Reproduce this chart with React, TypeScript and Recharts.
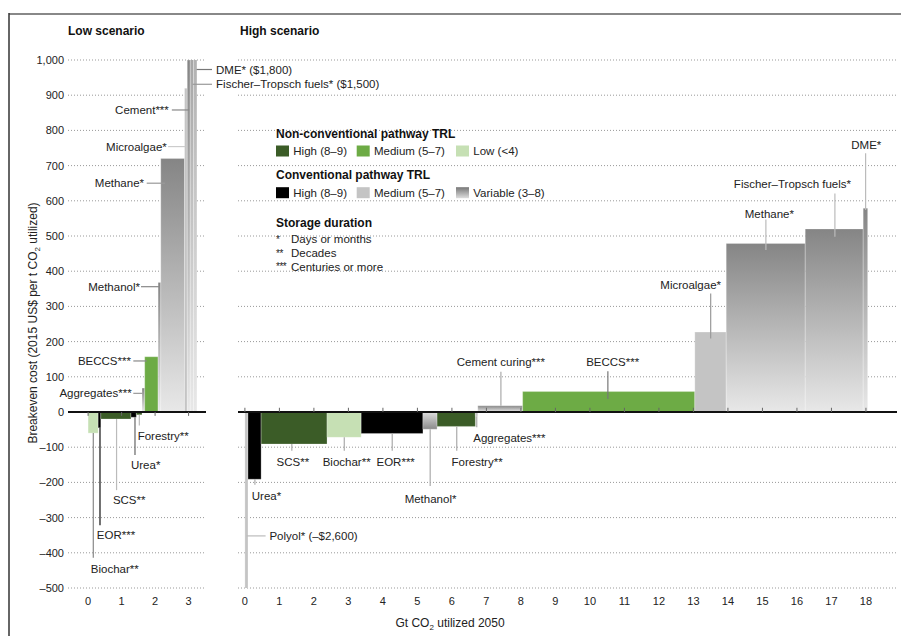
import React from 'react';
import {
  ComposedChart,
  XAxis,
  YAxis,
  CartesianGrid,
  ReferenceArea,
  ReferenceLine,
  ReferenceDot,
  Legend,
} from 'recharts';

const FONT = '"Liberation Sans", Arial, Helvetica, sans-serif';

// Low scenario (Gt CO2 utilized, breakeven cost $/t)
const lowPathways = ['Biochar', 'EOR', 'SCS', 'Urea', 'Forestry', 'Aggregates', 'BECCS', 'Methanol', 'Methane', 'Microalgae', 'Cement', 'Fischer–Tropsch fuels', 'DME'];
const lowVolume = [0.3, 0.08, 0.9, 0.16, 0.17, 0.08, 0.4, 0.08, 0.71, 0.08, 0.09, 0.1, 0.1];
const lowCost = [-60, -45, -20, -15, -8, 68, 157, 368, 720, 920, 1000, 1500, 1800];
const lowTrl = ['ncLow', 'cHigh', 'ncHigh', 'cHigh', 'ncHigh', 'cVar', 'ncMed', 'cVar', 'cVar', 'cMed', 'cVar', 'cVar', 'cVar'];

// High scenario
const highPathways = ['Polyol', 'Urea', 'SCS', 'Biochar', 'EOR', 'Methanol', 'Forestry', 'Aggregates', 'Cement curing', 'BECCS', 'Microalgae', 'Methane', 'Fischer–Tropsch fuels', 'DME'];
const highVolume = [0.09, 0.38, 1.91, 0.99, 1.79, 0.41, 1.11, 0.07, 1.3, 4.99, 0.91, 2.29, 1.68, 0.13];
const highCost = [-2600, -191, -91, -72, -61, -49, -41, -12, 18, 58, 227, 479, 520, 579];
const highTrl = ['cMed', 'cHigh', 'ncHigh', 'ncLow', 'cHigh', 'cVar', 'ncHigh', 'cMed', 'cVar', 'ncMed', 'cMed', 'cVar', 'cVar', 'cVar'];

const costTicks = [-500, -400, -300, -200, -100, 0, 100, 200, 300, 400, 500, 600, 700, 800, 900, 1000];
const lowTicks = [0, 1, 2, 3];
const highTicks = [0, 1, 2, 3, 4, 5, 6, 7, 8, 9, 10, 11, 12, 13, 14, 15, 16, 17, 18];

const COLORS: Record<string, string> = {
  ncHigh: '#3b5c27',
  ncMed: '#6dab45',
  ncLow: '#c6e0b4',
  cHigh: '#000000',
  cMed: '#c4c4c4',
};

// labels + leader lines, in data units of each panel
const lowNotes = [
  { text: 'DME* ($1,800)', x: 3.82, y: 973, anchor: 'start', line: [[3.24, 973], [3.7, 973]], color: '#777' },
  { text: 'Fischer–Tropsch fuels* ($1,500)', x: 3.82, y: 931, anchor: 'start', line: [[3.12, 931], [3.7, 931]], color: '#999' },
  { text: 'Cement***', x: 2.41, y: 858, anchor: 'end', line: [[2.5, 858], [3.02, 858]], color: '#888' },
  { text: 'Microalgae*', x: 2.35, y: 754, anchor: 'end', line: [[2.39, 754], [2.9, 754]], color: '#ccc' },
  { text: 'Methane*', x: 1.67, y: 650, anchor: 'end', line: [[1.75, 650], [2.3, 650]], color: '#999' },
  { text: 'Methanol*', x: 1.55, y: 356, anchor: 'end', line: [[1.58, 356], [2.13, 356]], color: '#888' },
  { text: 'BECCS***', x: 1.28, y: 145, anchor: 'end', line: [[1.35, 145], [1.75, 145]], color: '#888' },
  { text: 'Aggregates***', x: 1.3, y: 53, anchor: 'end', line: [[1.35, 53], [1.63, 53]], color: '#999' },
  { text: 'Forestry**', x: 1.48, y: -68, anchor: 'start', line: [[1.53, -8], [1.53, -38]], color: '#bbb' },
  { text: 'Urea*', x: 1.28, y: -151, anchor: 'start', line: [[1.4, -15], [1.4, -122]], color: '#666' },
  { text: 'SCS**', x: 0.74, y: -250, anchor: 'start', line: [[0.85, -20], [0.85, -222]], color: '#bbb' },
  { text: 'EOR***', x: 0.26, y: -350, anchor: 'start', line: [[0.355, -45], [0.355, -322]], color: '#111' },
  { text: 'Biochar**', x: 0.08, y: -445, anchor: 'start', line: [[0.155, -60], [0.155, -414]], color: '#888' },
];

const highNotes = [
  { text: 'Urea*', x: 0.2, y: -238, anchor: 'start', line: [[0.29, -191], [0.29, -207]], color: '#aaa' },
  { text: 'Polyol* (–$2,600)', x: 0.71, y: -352, anchor: 'start', line: [[0.05, -352], [0.6, -352]], color: '#bbb' },
  { text: 'SCS**', x: 1.39, y: -143, anchor: 'middle', line: [[1.36, -91], [1.36, -110]], color: '#aaa' },
  { text: 'Biochar**', x: 2.95, y: -143, anchor: 'middle', line: [[2.88, -72], [2.88, -110]], color: '#aaa' },
  { text: 'EOR***', x: 4.37, y: -143, anchor: 'middle', line: [[4.27, -61], [4.27, -110]], color: '#aaa' },
  { text: 'Methanol*', x: 5.38, y: -248, anchor: 'middle', line: [[5.37, -49], [5.37, -210]], color: '#aaa' },
  { text: 'Forestry**', x: 6.73, y: -143, anchor: 'middle', line: [[6.14, -41], [6.14, -110]], color: '#aaa' },
  { text: 'Aggregates***', x: 6.62, y: -73, anchor: 'start', line: [[6.72, -12], [6.72, -43]], color: '#aaa' },
  { text: 'Cement curing***', x: 7.42, y: 142, anchor: 'middle', line: [[7.42, 114], [7.42, 18]], color: '#aaa' },
  { text: 'BECCS***', x: 10.66, y: 143, anchor: 'middle', line: [[10.52, 116], [10.52, 37]], color: '#777' },
  { text: 'Microalgae*', x: 12.92, y: 361, anchor: 'middle', line: [[13.5, 337], [13.5, 209]], color: '#999' },
  { text: 'Methane*', x: 15.2, y: 564, anchor: 'middle', line: [[15.1, 547], [15.1, 460]], color: '#bbb' },
  { text: 'Fischer–Tropsch fuels*', x: 15.87, y: 647, anchor: 'middle', line: [[17.1, 621], [17.1, 498]], color: '#bbb' },
  { text: 'DME*', x: 18.01, y: 759, anchor: 'middle', line: [[17.99, 735], [17.99, 574]], color: '#bbb' },
];

const buildRows = (names: string[], vols: number[], costs: number[], trl: string[]) => {
  let start = 0;
  return names.map((name, i) => {
    const row = { name, x0: start, x1: start + vols[i], cost: costs[i], trl: trl[i] };
    start += vols[i];
    return row;
  });
};

const lowRows = buildRows(lowPathways, lowVolume, lowCost, lowTrl);
const highRows = buildRows(highPathways, highVolume, highCost, highTrl);

const barFill = (trl: string, cost: number) => {
  if (trl === 'cVar') return cost >= 0 ? 'url(#varUp)' : 'url(#varDown)';
  return COLORS[trl];
};

const fmtCost = (v: number) => (v < 0 ? '–' + Math.abs(v) : v.toLocaleString('en-US'));

const tickStyle = { fontSize: 11, fill: '#222', fontFamily: FONT };

const renderBars = (rows: any[], prefix: string) =>
  rows.map((r) => (
    <ReferenceArea
      key={prefix + r.name}
      x1={r.x0}
      x2={r.x1}
      y1={0}
      y2={r.cost}
      fill={barFill(r.trl, r.cost)}
      fillOpacity={1}
      stroke="#ffffff"
      strokeOpacity={0.5}
      strokeWidth={0.5}
      ifOverflow="hidden"
    />
  ));

const renderNotes = (notes: any[], prefix: string) =>
  notes.flatMap((n) => [
    <ReferenceLine
      key={prefix + 'l' + n.text}
      segment={[{ x: n.line[0][0], y: n.line[0][1] }, { x: n.line[1][0], y: n.line[1][1] }]}
      stroke={n.color}
      strokeWidth={1.2}
      ifOverflow="visible"
    />,
    <ReferenceDot
      key={prefix + 't' + n.text}
      x={n.x}
      y={n.y}
      r={0}
      ifOverflow="visible"
      shape={(p: any) => (
        <text x={p.cx} y={p.cy} dy="0.36em" textAnchor={n.anchor} fontSize={11.5} fill="#222" fontFamily={FONT}>
          {n.text}
        </text>
      )}
    />,
  ]);

const LegendBlock = () => {
  const sw = [0, 80.7, 180];
  const tx = [17.3, 98, 197.3];
  const title = { fontSize: 12, fontWeight: 700, fill: '#111', fontFamily: FONT } as const;
  const body = { fontSize: 11.5, fill: '#222', fontFamily: FONT } as const;
  return (
    <svg width={330} height={150} style={{ display: 'block', overflow: 'visible' }}>
      <text x={0} y={9.3} dy="0.36em" {...title}>Non-conventional pathway TRL</text>
      {[COLORS.ncHigh, COLORS.ncMed, COLORS.ncLow].map((c, i) => (
        <rect key={'a' + i} x={sw[i]} y={21.5} width={13} height={11} fill={c} />
      ))}
      {['High (8–9)', 'Medium (5–7)', 'Low (<4)'].map((t, i) => (
        <text key={'at' + i} x={tx[i]} y={27} dy="0.36em" {...body}>{t}</text>
      ))}
      <text x={0} y={51} dy="0.36em" {...title}>Conventional pathway TRL</text>
      {[COLORS.cHigh, COLORS.cMed, 'url(#varLegend)'].map((c, i) => (
        <rect key={'b' + i} x={sw[i]} y={63.2} width={13} height={11} fill={c} />
      ))}
      {['High (8–9)', 'Medium (5–7)', 'Variable (3–8)'].map((t, i) => (
        <text key={'bt' + i} x={tx[i]} y={68.7} dy="0.36em" {...body}>{t}</text>
      ))}
      <text x={0} y={98.3} dy="0.36em" {...title}>Storage duration</text>
      {['*', '**', '***'].map((s, i) => (
        <text key={'s' + i} x={0} y={115.3 + i * 13.7} dy="0.36em" fontSize={10} letterSpacing={-0.5} fill="#222" fontFamily={FONT}>{s}</text>
      ))}
      {['Days or months', 'Decades', 'Centuries or more'].map((t, i) => (
        <text key={'st' + i} x={15} y={115.3 + i * 13.7} dy="0.36em" {...body}>{t}</text>
      ))}
    </svg>
  );
};

export default function App() {
  return (
    <div style={{ position: 'absolute', left: 0, top: 0, width: 901, height: 636, background: '#fff', overflow: 'hidden' }}>
      <svg width={901} height={636} style={{ position: 'absolute', left: 0, top: 0 }}>
        <defs>
          <linearGradient id="varUp" x1="0" y1="0" x2="0" y2="1">
            <stop offset="0" stopColor="#858585" />
            <stop offset="1" stopColor="#e8e8e8" />
          </linearGradient>
          <linearGradient id="varDown" x1="0" y1="1" x2="0" y2="0">
            <stop offset="0" stopColor="#8a8a8a" />
            <stop offset="1" stopColor="#dedede" />
          </linearGradient>
          <linearGradient id="varLegend" x1="0" y1="0" x2="0" y2="1">
            <stop offset="0" stopColor="#777777" />
            <stop offset="1" stopColor="#dddddd" />
          </linearGradient>
        </defs>
        <line x1={9} y1={14} x2={901} y2={14} stroke="#888" strokeWidth={2} />
        <line x1={9} y1={13} x2={9} y2={636} stroke="#333" strokeWidth={1.5} />
        <text x={68} y={31} dy="0.36em" fontSize={12} fontWeight={700} fill="#111" fontFamily={FONT}>Low scenario</text>
        <text x={240} y={31} dy="0.36em" fontSize={12} fontWeight={700} fill="#111" fontFamily={FONT}>High scenario</text>
        <text transform="translate(33,323) rotate(-90)" textAnchor="middle" dy="0.36em" fontSize={12} fill="#222" fontFamily={FONT}>
          Breakeven cost (2015 US$ per t CO<tspan dy={3} fontSize={8}>2</tspan>
          <tspan dy={-3}> utilized)</tspan>
        </text>
        <text x={450} y={623} textAnchor="middle" dy="0.36em" fontSize={12} fill="#222" fontFamily={FONT}>
          Gt CO<tspan dy={3} fontSize={8}>2</tspan>
          <tspan dy={-3}> utilized 2050</tspan>
        </text>
      </svg>

      <div style={{ position: 'absolute', left: 0, top: 0 }}>
        <ComposedChart width={400} height={636} data={lowRows} margin={{ top: 60, right: 194, bottom: 0, left: 0 }}>
          <CartesianGrid vertical={false} stroke="#999" strokeDasharray="1 2" />
          <XAxis
            type="number"
            dataKey="x0"
            domain={[-0.6, 3.52]}
            ticks={lowTicks}
            allowDataOverflow
            axisLine={false}
            tickLine={false}
            tickSize={0}
            tickMargin={9}
            height={48}
            tick={tickStyle}
          />
          <YAxis
            type="number"
            domain={[-500, 1000]}
            ticks={costTicks}
            allowDataOverflow
            axisLine={false}
            tickLine={false}
            tickSize={0}
            tickMargin={4}
            width={68}
            tick={tickStyle}
            tickFormatter={fmtCost}
          />
          {renderBars(lowRows, 'low')}
          <ReferenceLine y={0} stroke="#111" strokeWidth={2} />
          {lowTicks.map((t) => (
            <ReferenceLine key={'lt' + t} segment={[{ x: t, y: 0 }, { x: t, y: -11 }]} stroke="#666" />
          ))}
          {renderNotes(lowNotes, 'low')}
        </ComposedChart>
      </div>

      <div style={{ position: 'absolute', left: 0, top: 0 }}>
        <ComposedChart width={901} height={636} data={highRows} margin={{ top: 60, right: 4, bottom: 0, left: 238 }}>
          <CartesianGrid vertical={false} stroke="#999" strokeDasharray="1 2" />
          <XAxis
            type="number"
            dataKey="x0"
            domain={[-0.2, 18.9]}
            ticks={highTicks}
            allowDataOverflow
            axisLine={false}
            tickLine={false}
            tickSize={0}
            tickMargin={9}
            height={48}
            tick={tickStyle}
          />
          <YAxis type="number" domain={[-500, 1000]} ticks={costTicks} allowDataOverflow hide />
          {renderBars(highRows, 'high')}
          <ReferenceLine y={0} stroke="#111" strokeWidth={2} />
          {highTicks.map((t) => (
            <ReferenceLine key={'ht' + t} segment={[{ x: t, y: 0 }, { x: t, y: 12 }]} stroke="#666" />
          ))}
          {renderNotes(highNotes, 'high')}
          <Legend
            layout="vertical"
            align="center"
            verticalAlign="middle"
            content={() => <LegendBlock />}
            wrapperStyle={{ left: 276, top: 124, width: 330, height: 150 }}
          />
        </ComposedChart>
      </div>
    </div>
  );
}
